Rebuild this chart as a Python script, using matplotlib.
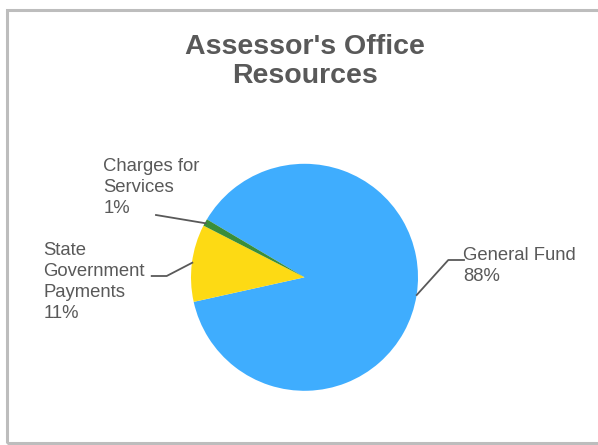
import matplotlib.pyplot as plt
from matplotlib.patches import Rectangle

plt.rcParams["font.family"] = ["Liberation Sans", "DejaVu Sans"]

title = "Assessor's Office\nResources"
labels = ["General Fund", "State\nGovernment\nPayments", "Charges for\nServices"]
shares = [88, 11, 1]
colors = ["#3FADFE", "#FDDA14", "#3A8E3A"]

W, H = 598, 445
text_gray = "#595959"

fig = plt.figure(figsize=(W / 100, H / 100), dpi=100)
ax = fig.add_axes([0, 0, 1, 1])

# pie placed in pixel units (y measured from the bottom)
center = (304.5, H - 277.3)
ax.pie(shares, colors=colors, startangle=149.3, counterclock=False,
       center=center, radius=113.5, wedgeprops=dict(linewidth=0))
ax.set_xlim(0, W)
ax.set_ylim(0, H)
ax.set_aspect("equal")
ax.axis("off")

# outer chart frame
ax.add_patch(Rectangle((6.5, H - 443), W + 20, 443 - 9.5, fill=False,
                       edgecolor="#BDBDBD", linewidth=2.2, clip_on=False))

# multi-line texts are anchored on the baseline of their last line
ax.text(305, H - 83.3, title, ha="center", va="baseline", fontsize=20.5,
        fontweight="bold", color=text_gray, linespacing=1.16)

# data labels: name + rounded share
label_pos = [(463.3, 280.7), (43.3, 317.7), (103.3, 212.7)]
for name, val, (lx, ly) in zip(labels, shares, label_pos):
    ax.text(lx, H - ly, f"{name}\n{val}%", ha="left", va="baseline",
            fontsize=13.3, color=text_gray, linespacing=1.29)

# leader lines
leaders = [
    [(416.7, 295), (448.3, 260), (464, 260)],
    [(192.3, 262.7), (166.7, 276), (151.7, 276)],
    [(205.7, 223.3), (156, 215)],
]
for pts in leaders:
    xs = [p[0] for p in pts]
    ys = [H - p[1] for p in pts]
    ax.plot(xs, ys, color=text_gray, linewidth=1.3)

fig.savefig("out.png", dpi=100)
